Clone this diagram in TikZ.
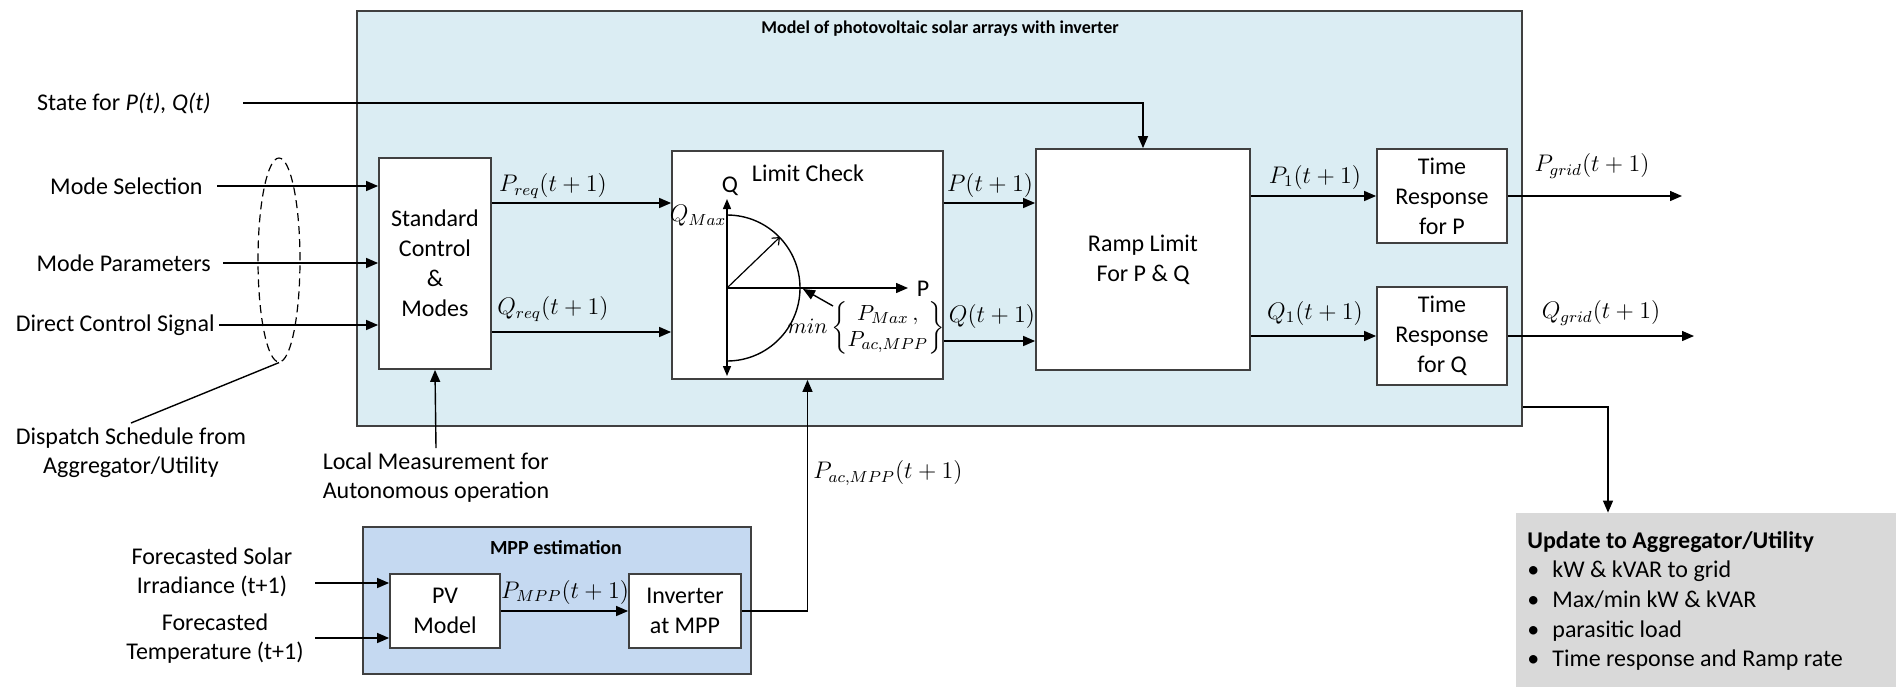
\documentclass[tikz,border=0pt]{standalone}
\usepackage{amsmath}
\usepackage{fontspec}
\setmainfont{Carlito}
\usetikzlibrary{arrows.meta, shapes.geometric}
\definecolor{modelfill}{RGB}{219, 237, 243}
\definecolor{mppfill}{RGB}{197, 217, 241}
\definecolor{updatefill}{RGB}{217, 217, 217}
\definecolor{boxline}{RGB}{64, 64, 64}

\tikzset{
    blockbox/.style={draw=boxline, fill=white, line width=0.9pt, align=center,
        inner sep=0pt, font=\fontsize{12}{15}\selectfont},
    sigline/.style={-{Triangle[length=6pt, width=5pt]}, line width=0.7pt},
    plainline/.style={line width=0.7pt},
    mathlbl/.style={font=\fontsize{12}{14}\selectfont, inner sep=1pt},
    txtlbl/.style={font=\fontsize{12}{14.5}\selectfont, align=center, inner sep=2pt}
}

\begin{document}
\begin{tikzpicture}[x=0.5pt, y=-0.5pt]
        \useasboundingbox (0, 0) rectangle (1896, 687);
        \node[draw=boxline, fill=modelfill, line width=0.9pt,
              minimum width=582.5pt, minimum height=207.5pt] (model)
            at (939.5, 218.5) {};
        \node[font=\fontsize{9}{11}\selectfont\bfseries] (modeltitle)
            at (940, 29) {Model of photovoltaic solar arrays with inverter};

        \node[blockbox, minimum width=56pt, minimum height=105.5pt] (stdctl)
            at (435, 263.5) {Standard\\Control\\\&\\Modes};
        \node[blockbox, minimum width=135.5pt, minimum height=114pt] (limchk)
            at (807.5, 265) {};
        \node[txtlbl] (limtitle) at (808, 173) {Limit Check};
        \node[blockbox, minimum width=107pt, minimum height=110.5pt] (ramp)
            at (1143, 259.5) {Ramp Limit\\For P \& Q};
        \node[blockbox, minimum width=65pt, minimum height=47pt] (timep)
            at (1442, 196) {Time\\Response\\for P};
        \node[blockbox, minimum width=65pt, minimum height=49pt] (timeq)
            at (1442, 336) {Time\\Response\\for Q};

        \node[draw=boxline, fill=mppfill, line width=0.9pt,
              minimum width=194pt, minimum height=73.5pt] (mpp)
            at (557, 600.5) {};
        \node[font=\fontsize{10}{12}\selectfont\bfseries] (mpptitle)
            at (556, 548) {MPP estimation};
        \node[blockbox, minimum width=55pt, minimum height=37pt] (pvmodel)
            at (445, 611) {PV\\Model};
        \node[blockbox, minimum width=56pt, minimum height=37pt] (invmpp)
            at (685, 611) {Inverter\\at MPP};

        \node[fill=updatefill, minimum width=190pt, minimum height=87pt] (update)
            at (1706, 600) {};
        \node[anchor=north west, align=left, inner sep=0pt,
              font=\fontsize{12}{14.8}\selectfont] (updtext) at (1527, 531)
            {\textbf{Update to Aggregator/Utility}\\
             \makebox[12.5pt][l]{\textbullet}kW \& kVAR to grid\\
             \makebox[12.5pt][l]{\textbullet}Max/min kW \& kVAR\\
             \makebox[12.5pt][l]{\textbullet}parasitic load\\
             \makebox[12.5pt][l]{\textbullet}Time response and Ramp rate};

        \node[txtlbl, anchor=east] (statein) at (215, 103)
            {State for \textit{P(t), Q(t)}};
        \node[txtlbl, anchor=east] (modesel) at (207, 186) {Mode Selection};
        \node[txtlbl, anchor=east] (modepar) at (215, 263) {Mode Parameters};
        \node[txtlbl, anchor=east] (dirctl) at (219, 325) {Direct Control Signal};
        \draw[sigline] ([xshift=14pt]statein.east) -| (ramp.north);
        \draw[sigline] ([xshift=5pt]modesel.east) -- (modesel.east -| stdctl.west);
        \draw[sigline] ([xshift=4pt]modepar.east) -- (modepar.east -| stdctl.west);
        \draw[sigline] (dirctl.east) -- (dirctl.east -| stdctl.west);

        \node[draw, dashed, ellipse, line width=0.6pt, inner sep=0pt,
              dash pattern=on 4pt off 2.5pt,
              minimum width=21pt, minimum height=102pt] (dispring) at (279, 260) {};
        \node[txtlbl, anchor=north] (dispatch) at (131, 423)
            {Dispatch Schedule from\\Aggregator/Utility};
        \draw[plainline] (dispring.south) -- (dispatch.north);

        \node[txtlbl, anchor=north, align=left] (locmeas) at (436, 448)
            {Local Measurement for\\Autonomous operation};
        \draw[sigline] (locmeas.north) -- (stdctl.south);

        \draw[sigline] (stdctl.east |- 0,203) -- (limchk.west |- 0,203);
        \node[mathlbl] (preqlbl) at (553, 186) {$P_{req}(t+1)$};
        \draw[sigline] (stdctl.east |- 0,332) -- (limchk.west |- 0,332);
        \node[mathlbl] (qreqlbl) at (553, 309) {$Q_{req}(t+1)$};
        \draw[sigline] (limchk.east |- 0,203) -- (ramp.west |- 0,203);
        \node[mathlbl] (poutlbl) at (990, 185) {$P(t+1)$};
        \draw[sigline] (limchk.east |- 0,341) -- (ramp.west |- 0,341);
        \node[mathlbl] (qoutlbl) at (992, 316) {$Q(t+1)$};
        \draw[sigline] (ramp.east |- timep.west) -- (timep.west);
        \node[mathlbl] (p1lbl) at (1315, 177) {$P_1(t+1)$};
        \draw[sigline] (ramp.east |- timeq.west) -- (timeq.west);
        \node[mathlbl] (q1lbl) at (1315, 313) {$Q_1(t+1)$};
        \coordinate (pgridend) at (1682, 196);
        \coordinate (qgridend) at (1694, 336);
        \draw[sigline] (timep.east) -- (pgridend);
        \node[mathlbl] (pgridlbl) at (1592, 166) {$P_{grid}(t+1)$};
        \draw[sigline] (timeq.east) -- (qgridend);
        \node[mathlbl] (qgridlbl) at (1601, 313) {$Q_{grid}(t+1)$};

        \coordinate (pqorigin) at (727, 288);
        \draw[{Triangle[length=5pt, width=4pt]}-{Triangle[length=5pt, width=4pt]},
              line width=0.7pt] (727, 376) -- (727, 199);
        \draw[sigline] (pqorigin) -- ++(181, 0);
        \draw[line width=0.7pt] (727, 215) arc[start angle=90, end angle=-90,
              radius=36.5pt];
        \draw[-{Straight Barb[length=3pt, width=5pt]}, line width=0.6pt]
            (pqorigin) -- ++(53, -51);
        \draw[sigline] (833, 306) -- (803, 289);
        \node[txtlbl] (qaxis) at (730, 186) {Q};
        \node[txtlbl] (paxis) at (923, 289) {P};
        \node[mathlbl] (qmaxlbl) at (698, 216) {$Q_{Max}$};
        \node[mathlbl, font=\fontsize{11}{13}\selectfont] (minlbl) at (866, 328)
            {$min\begin{Bmatrix}P_{Max}\,,\\ P_{ac,MPP}\end{Bmatrix}$};

        \draw[sigline] (pvmodel.east) -- (invmpp.west);
        \node[mathlbl] (pmpplbl) at (565, 592) {$P_{MPP}(t+1)$};
        \draw[sigline] (invmpp.east) -| (limchk.south);
        \node[mathlbl] (paclbl) at (888, 473) {$P_{ac,MPP}(t+1)$};

        \node[txtlbl] (irrad) at (212, 572) {Forecasted Solar\\Irradiance (t+1)};
        \node[txtlbl] (temper) at (215, 639) {Forecasted\\Temperature (t+1)};
        \coordinate (irradin) at (315, 583);
        \coordinate (tempin) at (315, 638);
        \draw[sigline] (irradin) -- (irradin -| pvmodel.west);
        \draw[sigline] (tempin) -- (tempin -| pvmodel.west);

        \draw[sigline] (model.east |- 0,407) -| (update.north -| 1608,0);
    \end{tikzpicture}
\end{document}
